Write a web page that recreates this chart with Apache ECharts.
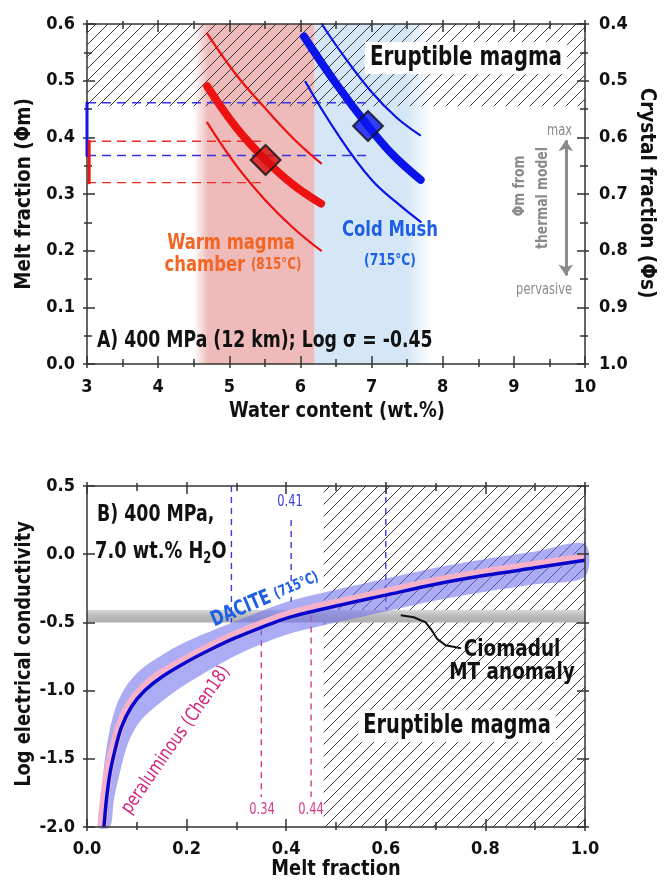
<!DOCTYPE html>
<html>
<head>
<meta charset="utf-8">
<script src="https://cdn.jsdelivr.net/npm/echarts@6/dist/echarts.min.js"></script>
<style>
  html, body { margin: 0; padding: 0; background: #fff; }
  #chart { width: 666px; height: 882px; }
</style>
</head>
<body>
<div id="chart"></div>
<script>
var FONT = "'DejaVu Sans Condensed', 'Liberation Sans', sans-serif";

// ---- panel A : melt fraction vs water content ----
var warmMain  = [[4.69, 0.49], [5.1, 0.417], [5.51, 0.36], [5.9, 0.316], [6.29, 0.283]];
var warmUpper = [[4.69, 0.583], [5.1, 0.51], [5.5, 0.452], [5.9, 0.398], [6.29, 0.354]];
var warmLower = [[4.69, 0.426], [5.1, 0.35], [5.5, 0.29], [5.9, 0.24], [6.29, 0.20]];
var coldMain  = [[6.05, 0.578], [6.5, 0.495], [6.95, 0.42], [7.3, 0.369], [7.69, 0.325]];
var coldUpper = [[6.3, 0.6], [6.6, 0.545], [7.0, 0.48], [7.35, 0.435], [7.68, 0.404]];
var coldLower = [[6.07, 0.498], [6.5, 0.41], [7.0, 0.325], [7.4, 0.28], [7.69, 0.251]];
var warmPoint = [5.51, 0.36];
var coldPoint = [6.95, 0.42];
var warmRange = [0.32, 0.393];   // red dashed
var coldRange = [0.368, 0.461];  // blue dashed
var eruptibleA = 0.455;          // hatch lower limit
var warmBand = [4.5, 6.2];
var coldBand = [6.2, 7.85];

// ---- panel B : log conductivity vs melt fraction ----
var daciteLine = [[0.034, -2.0], [0.039, -1.80], [0.046, -1.61], [0.056, -1.44], [0.069, -1.27],
  [0.089, -1.12], [0.116, -1.0], [0.15, -0.90], [0.2, -0.79], [0.25, -0.695], [0.3, -0.61],
  [0.4, -0.47], [0.5, -0.38], [0.6, -0.30], [0.7, -0.22], [0.8, -0.155], [0.9, -0.10], [1.0, -0.045]];
var peraLine = [[0.030, -2.0], [0.035, -1.80], [0.042, -1.61], [0.052, -1.44], [0.065, -1.27],
  [0.085, -1.11], [0.112, -0.985], [0.15, -0.875], [0.2, -0.77], [0.25, -0.675], [0.3, -0.59],
  [0.4, -0.45], [0.5, -0.36], [0.6, -0.28], [0.7, -0.20], [0.8, -0.135], [0.9, -0.08], [1.0, -0.025]];
var bandUpper = [[0.023, -2.0], [0.029, -1.75], [0.036, -1.5], [0.046, -1.28], [0.06, -1.1],
  [0.08, -0.96], [0.11, -0.84], [0.15, -0.74], [0.2, -0.64], [0.3, -0.49], [0.4, -0.35],
  [0.5, -0.26], [0.6, -0.18], [0.7, -0.10], [0.8, -0.035], [0.9, 0.02], [1.0, 0.075]];
var bandLower = [[0.046, -2.0], [0.054, -1.8], [0.066, -1.6], [0.083, -1.38], [0.108, -1.22],
  [0.15, -1.08], [0.2, -0.95], [0.3, -0.74], [0.4, -0.59], [0.5, -0.50], [0.6, -0.42],
  [0.7, -0.34], [0.8, -0.275], [0.9, -0.22], [1.0, -0.165]];
var mtAnomaly = [-0.50, -0.41];
var eruptibleB = 0.475;
var blueMarks = [[0.29, 0.5, -0.5], [0.41, 0.25, -0.35], [0.6, 0.5, -0.4]];
var pinkMarks = [[0.35, -0.55, -1.78], [0.45, -0.45, -1.78]];
var arrowPath = [[0.751, -0.689], [0.72, -0.668], [0.703, -0.62], [0.692, -0.557], [0.68, -0.5], [0.656, -0.462], [0.63, -0.448]];

function hatchPattern() {
  var c = document.createElement('canvas');
  c.width = 12; c.height = 12;
  var g = c.getContext('2d');
  g.strokeStyle = '#3a3a3a';
  g.lineWidth = 1;
  g.beginPath();
  g.moveTo(0, 12); g.lineTo(12, 0);
  g.moveTo(-6, 6); g.lineTo(6, -6);
  g.moveTo(6, 18); g.lineTo(18, 6);
  g.stroke();
  return c;
}
var HATCH = { image: hatchPattern(), repeat: 'repeat' };

// an axis drawn twice so ticks cross the line
function axisPair(grid, pos, min, max, interval, minorSplit, label, inverse) {
  var base = { type: 'value', gridIndex: grid, position: pos, min: min, max: max, interval: interval,
    inverse: !!inverse, splitLine: { show: false }, z: 10 };
  var tickStyle = { color: '#333', width: 1.5 };
  var a = Object.assign({}, base, {
    axisLine: { show: true, onZero: false, lineStyle: { color: '#333', width: 1.5 } },
    axisTick: { show: true, inside: true, length: 8, lineStyle: tickStyle },
    minorTick: { show: minorSplit > 0, splitNumber: minorSplit || 5, length: 5, lineStyle: tickStyle },
    axisLabel: label ? Object.assign({ show: true, fontFamily: FONT, fontWeight: 'bold', fontSize: 18, color: '#111' }, label) : { show: false }
  });
  var b = Object.assign({}, base, {
    axisLine: { show: false, onZero: false },
    axisTick: { show: true, inside: false, length: 4, lineStyle: tickStyle },
    minorTick: { show: minorSplit > 0, splitNumber: minorSplit || 5, length: 3, lineStyle: tickStyle },
    axisLabel: { show: false }
  });
  return [a, b];
}

var fmt1 = function (v) { return v.toFixed(1); };
var fmt0 = function (v) { return v.toFixed(0); };

var xAxes = [].concat(
  axisPair(0, 'bottom', 3, 10, 1, 2, { margin: 14, formatter: fmt0 }),
  axisPair(0, 'top', 3, 10, 1, 2, null),
  axisPair(1, 'bottom', 0, 1, 0.2, 2, { margin: 13, formatter: fmt1 }),
  axisPair(1, 'top', 0, 1, 0.2, 2, null)
);
var yAxes = [].concat(
  axisPair(0, 'left', 0, 0.6, 0.1, 2, { margin: 12, formatter: fmt1 }),
  axisPair(0, 'right', 0.4, 1.0, 0.1, 2, { margin: 14, formatter: fmt1 }, true),
  axisPair(1, 'left', -2.0, 0.5, 0.5, 0, { margin: 12, formatter: fmt1 }),
  axisPair(1, 'right', -2.0, 0.5, 0.5, 0, null)
);

function lineA(data, color, width, z, extra) {
  return Object.assign({ type: 'line', xAxisIndex: 0, yAxisIndex: 0, data: data, symbol: 'none', smooth: 0.4,
    lineStyle: { color: color, width: width, cap: 'round' }, z: z, silent: true }, extra || {});
}
function lineB(data, color, width, z, extra) {
  return Object.assign({ type: 'line', xAxisIndex: 4, yAxisIndex: 4, data: data, symbol: 'none',
    lineStyle: { color: color, width: width }, z: z, silent: true }, extra || {});
}

var series = [];

// panel A: coloured temperature fields and hatch
series.push({ type: 'line', xAxisIndex: 0, yAxisIndex: 0, data: [], z: 1, silent: true,
  markArea: { silent: true, data: [
    [{ coord: [warmBand[0], 0], itemStyle: { color: new echarts.graphic.LinearGradient(0, 0, 1, 0, [
      { offset: 0, color: 'rgba(239,186,186,0)' }, { offset: 0.12, color: 'rgba(239,186,186,1)' },
      { offset: 1, color: 'rgba(239,186,186,1)' }]) } }, { coord: [warmBand[1], 0.6] }],
    [{ coord: [coldBand[0], 0], itemStyle: { color: new echarts.graphic.LinearGradient(0, 0, 1, 0, [
      { offset: 0, color: 'rgba(213,231,247,1)' }, { offset: 0.78, color: 'rgba(213,231,247,1)' },
      { offset: 1, color: 'rgba(213,231,247,0)' }]) } }, { coord: [coldBand[1], 0.6] }]
  ] } });
series.push({ type: 'line', xAxisIndex: 0, yAxisIndex: 0, data: [], z: 2, silent: true,
  markArea: { silent: true, itemStyle: { color: HATCH }, data: [[{ coord: [3, eruptibleA] }, { coord: [10, 0.6] }]] } });

// dashed ranges
[warmRange[0], warmRange[1]].forEach(function (y) {
  series.push(lineA([[3, y], [warmPoint[0], y]], '#ec2a2a', 1.4, 3, { smooth: false, lineStyle: { color: '#ec2a2a', width: 1.4, type: [9, 6] } }));
});
[coldRange[0], coldRange[1]].forEach(function (y) {
  series.push(lineA([[3, y], [coldPoint[0], y]], '#3434e6', 1.4, 3, { smooth: false, lineStyle: { color: '#3434e6', width: 1.4, type: [9, 6] } }));
});
series.push(lineA([[3, coldRange[0]], [3, coldRange[1]]], '#1515ee', 3, 12, { smooth: false, clip: false }));
series.push(lineA([[3.03, warmRange[0]], [3.03, warmRange[1]]], '#ee1515', 3, 12, { smooth: false, clip: false }));

// curves
series.push(lineA(warmUpper, '#ee1111', 2.2, 4));
series.push(lineA(warmLower, '#ee1111', 2.2, 4));
series.push(lineA(warmMain, '#ee1111', 8, 5));
series.push(lineA(coldUpper, '#0a14e8', 2.2, 4));
series.push(lineA(coldLower, '#0a14e8', 2.2, 4));
series.push(lineA(coldMain, '#0a14e8', 8, 5));
series.push({ type: 'scatter', xAxisIndex: 0, yAxisIndex: 0, symbol: 'diamond', symbolSize: 30, z: 6, silent: true,
  data: [{ value: warmPoint, itemStyle: { color: '#d80c0c' } }, { value: coldPoint, itemStyle: { color: '#0a14ee' } }],
  itemStyle: { borderColor: '#111', borderWidth: 2 } });

// thermal model arrow
series.push({ type: 'lines', coordinateSystem: 'cartesian2d', xAxisIndex: 0, yAxisIndex: 0, z: 6, silent: true,
  symbol: ['arrow', 'arrow'], symbolSize: 11,
  lineStyle: { color: '#8a8a8a', width: 3, opacity: 1 },
  data: [{ coords: [[9.73, 0.395], [9.73, 0.156]] }] });

// panel B
series.push({ type: 'line', xAxisIndex: 4, yAxisIndex: 4, data: [], z: 1, silent: true,
  markArea: { silent: true, itemStyle: { color: HATCH }, data: [[{ coord: [eruptibleB, -2.0] }, { coord: [1.0, 0.5] }]] } });
series.push({ type: 'line', xAxisIndex: 4, yAxisIndex: 4, data: [], z: 2, silent: true,
  markArea: { silent: true, data: [[{ coord: [0, mtAnomaly[1]], itemStyle: { color: new echarts.graphic.LinearGradient(0, 0, 0, 1, [
    { offset: 0, color: '#d6d6d6' }, { offset: 0.5, color: '#bababa' }, { offset: 1, color: '#aeaeae' }]) } },
    { coord: [1, mtAnomaly[0]] }]] } });
blueMarks.forEach(function (m) {
  series.push(lineB([[m[0], m[1]], [m[0], m[2]]], '#3a3ae0', 1.4, 3, { lineStyle: { color: '#3a3ae0', width: 1.4, type: [6, 5] } }));
});
pinkMarks.forEach(function (m) {
  series.push(lineB([[m[0], m[1]], [m[0], m[2]]], '#d63a8a', 1.4, 3, { lineStyle: { color: '#d63a8a', width: 1.4, type: [6, 5] } }));
});
series.push({ type: 'custom', coordinateSystem: 'cartesian2d', xAxisIndex: 4, yAxisIndex: 4, z: 4, silent: true,
  data: [[0.5, -1]],
  renderItem: function (params, api) {
    var pts = bandUpper.map(function (p) { return api.coord(p); })
      .concat(bandLower.slice().reverse().map(function (p) { return api.coord(p); }));
    return { type: 'polygon', shape: { points: pts, smooth: 0.3 }, style: { fill: 'rgba(112,112,236,0.58)' } };
  } });
series.push(lineB(peraLine, '#f5b2c9', 9, 5, { smooth: 0.3 }));
series.push(lineB(daciteLine, '#0606cc', 3.5, 6, { smooth: 0.3 }));
series.push({ type: 'lines', coordinateSystem: 'cartesian2d', xAxisIndex: 4, yAxisIndex: 4, z: 7, silent: true,
  polyline: true, symbol: ['none', 'arrow'], symbolSize: 9,
  lineStyle: { color: '#111', width: 2, opacity: 1 },
  data: [{ coords: arrowPath }] });

var bold = function (size) { return 'bold ' + size + 'px ' + FONT; };
var norm = function (size) { return size + 'px ' + FONT; };
// text helper; sx condenses the glyphs along the reading direction
function txt(x, y, text, font, color, sx, extra) {
  extra = extra || {};
  var st = Object.assign({ text: text, font: font, fill: color || '#111', align: 'center', verticalAlign: 'middle' }, extra.style || {});
  var el = { type: 'text', x: x, y: y, z: 20, style: st, silent: true, scaleX: sx || 1 };
  if (extra.rotation) el.rotation = extra.rotation;
  return el;
}

var graphics = [
  txt(24, 194, 'Melt fraction (Φm)', bold(22), '#111', 0.93, { rotation: Math.PI / 2 }),
  txt(647, 193, 'Crystal fraction (Φs)', bold(22), '#111', 0.93, { rotation: -Math.PI / 2 }),
  txt(337, 411, 'Water content (wt.%)', bold(22), '#111', 0.9),
  txt(466, 58, 'Eruptible magma', bold(26), '#111', 0.85, { style: { backgroundColor: '#fff', padding: [4, 6, 2, 6] } }),
  txt(97, 341, 'A) 400 MPa (12 km); Log σ = -0.45', bold(23), '#111', 0.835, { style: { align: 'left' } }),
  txt(231, 243, 'Warm magma', bold(22), '#f26522', 0.83),
  txt(233, 265, '{a|chamber} {b|(815°C)}', bold(22), '#f26522', 0.83, { style: { rich: {
    a: { font: bold(22), fill: '#f26522' }, b: { font: bold(16), fill: '#f26522' } } } }),
  txt(390, 230, 'Cold Mush', bold(22), '#1d5fe6', 0.83),
  txt(390, 261, '(715°C)', bold(16), '#1d5fe6', 0.85),
  txt(572, 131, 'max', norm(15), '#8a8a8a', 0.85, { style: { align: 'right' } }),
  txt(572, 290, 'pervasive', norm(15), '#8a8a8a', 0.85, { style: { align: 'right' } }),
  txt(520, 186, 'Φm from', bold(16), '#8a8a8a', 0.86, { rotation: Math.PI / 2 }),
  txt(543, 198, 'thermal model', bold(16), '#8a8a8a', 0.86, { rotation: Math.PI / 2 }),

  txt(24, 654, 'Log electrical conductivity', bold(22), '#111', 0.9, { rotation: Math.PI / 2 }),
  txt(336, 869, 'Melt fraction', bold(22), '#111', 0.9),
  txt(97, 515, 'B) 400 MPa,', bold(23), '#111', 0.84, { style: { align: 'left' } }),
  txt(95, 552, '{a|7.0 wt.% H}{b|2}{a|O}', bold(23), '#111', 0.86, { style: { align: 'left', rich: {
    a: { font: bold(23), fill: '#111' }, b: { font: bold(15), fill: '#111', padding: [14, 0, 0, 0] } } } }),
  txt(290, 502, '0.41', norm(15), '#3a3ae0', 0.85),
  txt(262, 810, '0.34', norm(15), '#d63a8a', 0.85),
  txt(311, 810, '0.44', norm(15), '#d63a8a', 0.85),
  txt(265, 599, '{a|DACITE} {b|(715°C)}', bold(20), '#1d5fe6', 0.82, { rotation: 23 * Math.PI / 180, style: { rich: {
    a: { font: bold(21), fill: '#1d5fe6' }, b: { font: bold(15), fill: '#1d5fe6' } } } }),
  txt(176, 740, 'peraluminous (Chen18)', norm(19), '#d4237a', 0.87, { rotation: 55 * Math.PI / 180 }),
  txt(512, 650, 'Ciomadul', bold(23), '#111', 0.89),
  txt(512, 673, 'MT anomaly', bold(23), '#111', 0.89),
  txt(457, 726, 'Eruptible magma', bold(26), '#111', 0.83, { style: { backgroundColor: '#fff', padding: [4, 6, 2, 6] } })
];

var chart = echarts.init(document.getElementById('chart'), null, { renderer: 'canvas' });
chart.setOption({
  animation: false,
  backgroundColor: '#fff',
  grid: [
    { left: 87, right: 81, top: 24, height: 340 },
    { left: 87, right: 81, top: 486, height: 341 }
  ],
  xAxis: xAxes,
  yAxis: yAxes,
  series: series,
  graphic: graphics
});
</script>
</body>
</html>
